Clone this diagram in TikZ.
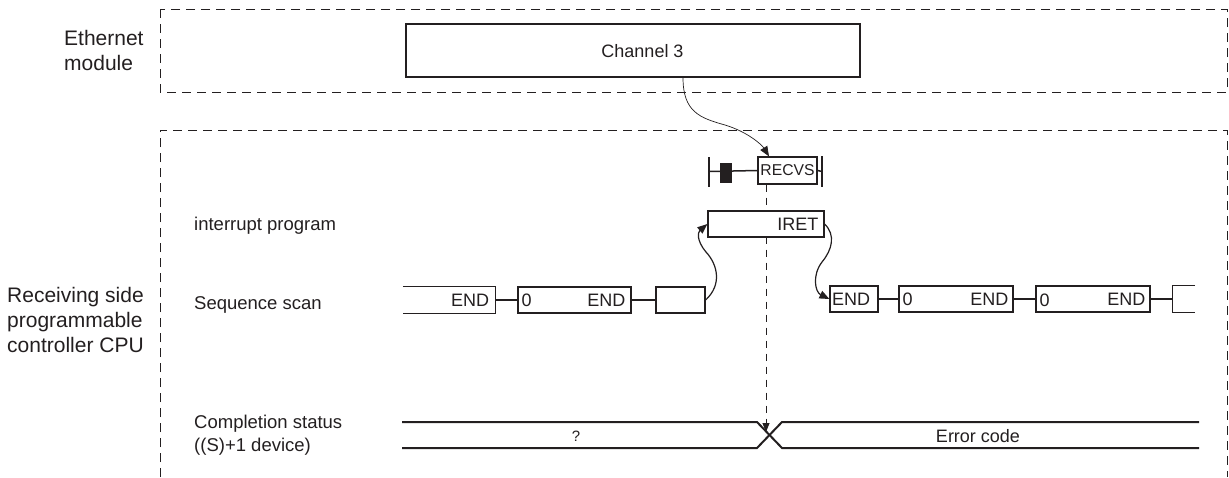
\documentclass[tikz,border=0pt]{standalone}
\usepackage{fontspec}
\setmainfont{Liberation Sans}
\usetikzlibrary{arrows.meta}
\definecolor{lc}{HTML}{231F20}
\begin{document}
\begin{tikzpicture}[x=1pt,y=-1pt,
  bound/.style={draw=lc, line width=0.9pt, dash pattern=on 9pt off 6pt},
  blk/.style={draw=lc, line width=1.2pt, fill=white, inner sep=0pt, minimum height=26pt},
  openblk/.style={inner sep=0pt, minimum height=26pt},
  edge3/.style={draw=lc, line width=1.2pt},
  wire/.style={draw=lc, line width=1.5pt},
  bigtxt/.style={font=\fontsize{21pt}{25pt}\selectfont, text=lc, inner sep=0pt, anchor=base west},
  rowtxt/.style={font=\fontsize{18.5pt}{22pt}\selectfont, text=lc, inner sep=0pt, anchor=base west},
  txt/.style={font=\fontsize{18pt}{22pt}\selectfont, text=lc, inner sep=0pt},
  arr/.style={draw=lc, line width=1.2pt, -{Triangle[length=10pt,width=8pt]}},
  band/.style={draw=lc, line width=2pt}
]
\useasboundingbox (0,0) rectangle (1229,477);

% dashed boundaries
\draw[bound] (160,9) rectangle (1227,92);
\draw[bound] (160,477) -- (160,130) -- (1227,130) -- (1227,477);

% left labels
\node[bigtxt] (le1) at (64,45) {Ethernet};
\node[bigtxt] (le2) at (64,70) {module};
\node[bigtxt] (lr1) at (7,302) {Receiving side};
\node[bigtxt] (lr2) at (7,327) {programmable};
\node[bigtxt] (lr3) at (7,352) {controller CPU};

% row labels
\node[rowtxt] (ri) at (194,230) {interrupt program};
\node[rowtxt] (rs) at (194,309) {Sequence scan};
\node[rowtxt] (rc1) at (194,428) {Completion status};
\node[rowtxt] (rc2) at (194,451) {((S)+1 device)};

% Channel 3
\node[draw=lc, line width=1.5pt, minimum width=454pt, minimum height=53pt, inner sep=0pt] (ch) at (633,50.5) {};
\node[txt] (cht) at (642.5,51) {Channel 3};

% RECVS ladder
\coordinate (lb) at (709,171.5);
\coordinate (rb) at (822,171.5);
\coordinate (xc) at (766,432);
\node[blk, minimum width=59pt, minimum height=27pt, font=\fontsize{15.7pt}{18pt}\selectfont, text=lc] (recvs) at (787.5,170.5) {RECVS};
\node[fill=lc, minimum width=12pt, minimum height=20pt, inner sep=0pt] (ct) at (726,173) {};
\draw[wire] (lb) -- (recvs.west);
\draw[wire] (recvs.east) -- (rb);
\draw[draw=lc, line width=1.6pt] (709,157) -- (709,187);
\draw[draw=lc, line width=1.6pt] (822,156) -- (822,187);

% dashed timing line
\draw[draw=lc, line width=1pt, dash pattern=on 7pt off 6pt, -{Triangle[length=9pt,width=7pt]}] ([xshift=-21.5pt]recvs.south) -- (xc);

% channel arrow
\draw[draw=lc, line width=0.7pt, -{Triangle[length=10pt,width=8pt]}] ([xshift=50pt]ch.south) .. controls (683,112) and (700,118) .. (725,125) .. controls (748,132) and (762,145) .. ([xshift=-18.5pt]recvs.north);

% interrupt program
\node[blk, minimum width=116pt] (iret) at (766,224) {};
\node[txt, anchor=east] (iretT) at ([xshift=-6pt]iret.east) {IRET};

% sequence scan
\node[openblk, minimum width=92pt] (A) at (449,300) {};
\draw[edge3] (A.north west) -- (A.north east) -- (A.south east) -- (A.south west);
\node[txt, anchor=east] (At) at ([xshift=-6pt]A.east) {END};

\node[blk, minimum width=113pt] (B) at (574.5,300) {};
\node[txt, anchor=west] (B0) at ([xshift=4pt]B.west) {0};
\node[txt, anchor=east] (Bt) at ([xshift=-6pt]B.east) {END};

\node[blk, minimum width=49pt] (C) at (680.5,300) {};

\node[blk, minimum width=48pt] (D) at (854,299) {};
\node[txt] (Dt) at (851,299) {END};

\node[blk, minimum width=114pt] (E) at (956,299) {};
\node[txt, anchor=west] (E0) at ([xshift=4pt]E.west) {0};
\node[txt, anchor=east] (Et) at ([xshift=-5pt]E.east) {END};

\node[blk, minimum width=114pt] (F) at (1093,299) {};
\node[txt, anchor=west] (F0) at ([xshift=4pt,yshift=-1pt]F.west) {0};
\node[txt, anchor=east] (Ft) at ([xshift=-5pt]F.east) {END};

\node[openblk, minimum width=22pt] (G) at (1184,299) {};
\draw[edge3] (G.north east) -- (G.north west) -- (G.south west) -- (G.south east);

\draw[wire] (A.east) -- (B.west);
\draw[wire] (B.east) -- (C.west);
\draw[wire] (D.east) -- (E.west);
\draw[wire] (E.east) -- (F.west);
\draw[wire] (F.east) -- (G.west);

% interrupt arrows
\draw[arr] (C.east) .. controls (722,285) and (718,265) .. (706,252) .. controls (696,240) and (698,232) .. (iret.west);
\draw[arr] (iret.east) .. controls (836,235) and (832,250) .. (822,262) .. controls (812,275) and (815,292) .. (D.west);

% completion status band
\draw[band] (402,422) -- (757,422) -- (782,448) -- (1199,448);
\draw[band] (402,448) -- (757,448) -- (782,422) -- (1199,422);
\node[txt, font=\fontsize{15pt}{18pt}\selectfont] (q) at (576,436) {?};
\node[txt] (err) at (978,436) {Error code};
\end{tikzpicture}
\end{document}
